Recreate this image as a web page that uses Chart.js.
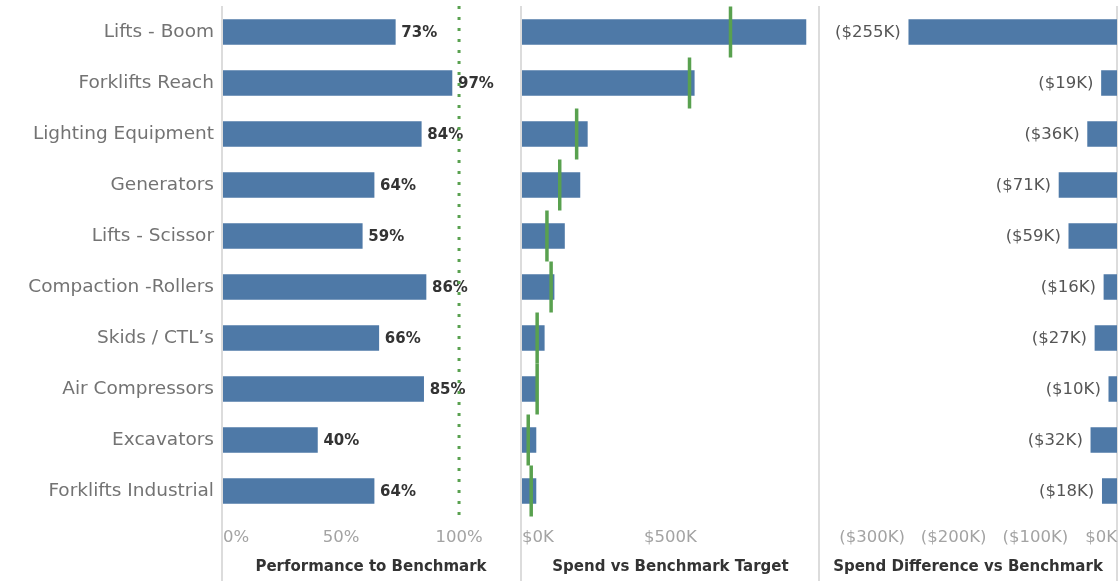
<!DOCTYPE html>
<html>
<head>
<meta charset="utf-8">
<script src="https://cdn.jsdelivr.net/npm/chart.js@4/dist/chart.umd.min.js"></script>
<style>
  body { margin: 0; background: #fff; }
  #wrap { position: relative; width: 1119px; height: 581px; overflow: hidden; }
  .sep { position: absolute; top: 6px; width: 2px; height: 575px; background: #dcdcdc; }
  canvas { position: absolute; top: 0; }
</style>
</head>
<body>
<div id="wrap">
  <div class="sep" style="left:221px"></div>
  <div class="sep" style="left:520px"></div>
  <div class="sep" style="left:818px"></div>
  <div class="sep" style="left:1116px"></div>
  <canvas id="perfChart" width="521" height="581" style="left:0"></canvas>
  <canvas id="spendChart" width="320" height="581" style="left:500px"></canvas>
  <canvas id="diffChart" width="319" height="581" style="left:800px"></canvas>
</div>
<script>
const categories = ['Lifts - Boom', 'Forklifts Reach', 'Lighting Equipment', 'Generators', 'Lifts - Scissor',
  'Compaction -Rollers', 'Skids / CTL\u2019s', 'Air Compressors', 'Excavators', 'Forklifts Industrial'];
const perfPct = [73, 97, 84, 64, 59, 86, 66, 85, 40, 64];
const spendK = [956, 580, 220, 195, 143, 108, 75, 46, 47, 47];
const targetK = [702, 564, 184, 127, 84, 98, 51, 51, 21, 31];
const diffK = [-255, -19, -36, -71, -59, -16, -27, -10, -32, -18];

const perfTicks = [0, 50, 100];
const spendTicks = [0, 500];
const diffTicks = [-300, -200, -100, 0];

const BLUE = '#4e79a7';
const GREEN = '#59a14f';
const FONT = "'DejaVu Sans', sans-serif";

Chart.defaults.font.family = FONT;
Chart.defaults.animation = false;
Chart.defaults.plugins.legend.display = false;
Chart.defaults.plugins.tooltip.enabled = false;

function fmtDiff(v) {
    return v < 0 ? '($' + Math.abs(v) + 'K)' : '$' + v + 'K';
}

// x axis shared bits; the empty edge tick keeps the real end tick centred
function bottomAxis(min, max, ticks, fmt, title) {
    const all = min < 0 ? [min].concat(ticks) : ticks.concat([max]);
    return {
        min: min,
        max: max,
        grid: { display: false, drawTicks: false },
        border: { display: false },
        afterBuildTicks: s => { s.ticks = all.map(v => ({ value: v })); },
        afterFit: s => {
            s.height = 64.5;
            s.paddingLeft = 0;
            s.paddingRight = 0;
        },
        ticks: {
            align: 'inner',
            autoSkip: false,
            maxRotation: 0,
            minRotation: 0,
            padding: 11,
            color: '#a3a3a3',
            font: { size: 16.5 },
            callback: v => (v === min || v === max) && !ticks.includes(v) ? '' : fmt(v)
        },
        title: {
            display: true,
            text: title,
            color: '#333',
            font: { size: 15, weight: 'bold' },
            padding: { top: 4, bottom: 5 }
        }
    };
}

const barLabels = {
    id: 'barLabels',
    afterDatasetsDraw(chart, args, opts) {
        if (!opts.side) return;
        const ctx = chart.ctx;
        const meta = chart.getDatasetMeta(0);
        const values = chart.data.datasets[0].data;
        ctx.save();
        ctx.font = opts.font;
        ctx.fillStyle = opts.color;
        ctx.textBaseline = 'middle';
        ctx.textAlign = opts.side === 'right' ? 'left' : 'right';
        meta.data.forEach((bar, i) => {
            const x = opts.side === 'right' ? bar.x + 6 : bar.x - 8;
            ctx.fillText(opts.fmt(values[i]), x, bar.y + 1);
        });
        ctx.restore();
    }
};

const benchLine = {
    id: 'benchLine',
    afterDraw(chart, args, opts) {
        if (opts.value === undefined) return;
        const ctx = chart.ctx;
        const x = chart.scales.x.getPixelForValue(opts.value);
        ctx.save();
        ctx.strokeStyle = GREEN;
        ctx.lineWidth = 3;
        ctx.setLineDash([3, 8]);
        ctx.beginPath();
        ctx.moveTo(x, chart.chartArea.top - 0.5);
        ctx.lineTo(x, chart.chartArea.bottom);
        ctx.stroke();
        ctx.restore();
    }
};

Chart.register(barLabels, benchLine);

new Chart(document.getElementById('perfChart'), {
    type: 'bar',
    data: {
        labels: categories,
        datasets: [{ data: perfPct, backgroundColor: BLUE, barThickness: 25 }]
    },
    options: {
        responsive: false,
        indexAxis: 'y',
        layout: { autoPadding: false, padding: { top: 6.5, right: 2 } },
        scales: {
            x: bottomAxis(0, 125.4, perfTicks, v => v + '%', 'Performance to Benchmark'),
            y: {
                grid: { display: false, drawTicks: false },
                border: { display: false },
                afterFit: s => {
                    s.width = 223;
                    s.paddingTop = 0;
                    s.paddingBottom = 0;
                },
                ticks: { color: '#737373', font: { size: 18.5 }, padding: 9 }
            }
        },
        plugins: {
            barLabels: { side: 'right', font: 'bold 15px ' + FONT, color: '#333', fmt: v => v + '%' },
            benchLine: { value: 100 }
        }
    }
});

new Chart(document.getElementById('spendChart'), {
    type: 'bar',
    data: {
        labels: categories,
        datasets: [{
            type: 'line',
            indexAxis: 'y',
            data: targetK,
            showLine: false,
            pointStyle: 'line',
            pointRotation: 90,
            pointRadius: 25.5,
            pointBorderWidth: 3.5,
            pointBorderColor: GREEN,
            pointBackgroundColor: GREEN,
            clip: false,
            order: 0
        }, {
            data: spendK,
            backgroundColor: BLUE,
            barThickness: 25,
            order: 1
        }]
    },
    options: {
        responsive: false,
        indexAxis: 'y',
        layout: { autoPadding: false, padding: { top: 6.5, left: 22, right: 1 } },
        scales: {
            x: bottomAxis(0, 1000, spendTicks, v => '$' + v + 'K', 'Spend vs Benchmark Target'),
            y: { display: false }
        }
    }
});

new Chart(document.getElementById('diffChart'), {
    type: 'bar',
    data: {
        labels: categories,
        datasets: [{ data: diffK, backgroundColor: BLUE, barThickness: 25 }]
    },
    options: {
        responsive: false,
        indexAxis: 'y',
        layout: { autoPadding: false, padding: { top: 6.5, left: 19, right: 2 } },
        scales: {
            x: bottomAxis(-365, 0, diffTicks, fmtDiff, 'Spend Difference vs Benchmark'),
            y: { display: false }
        },
        plugins: {
            barLabels: { side: 'left', font: '16.5px ' + FONT, color: '#555', fmt: fmtDiff }
        }
    }
});
</script>
</body>
</html>
